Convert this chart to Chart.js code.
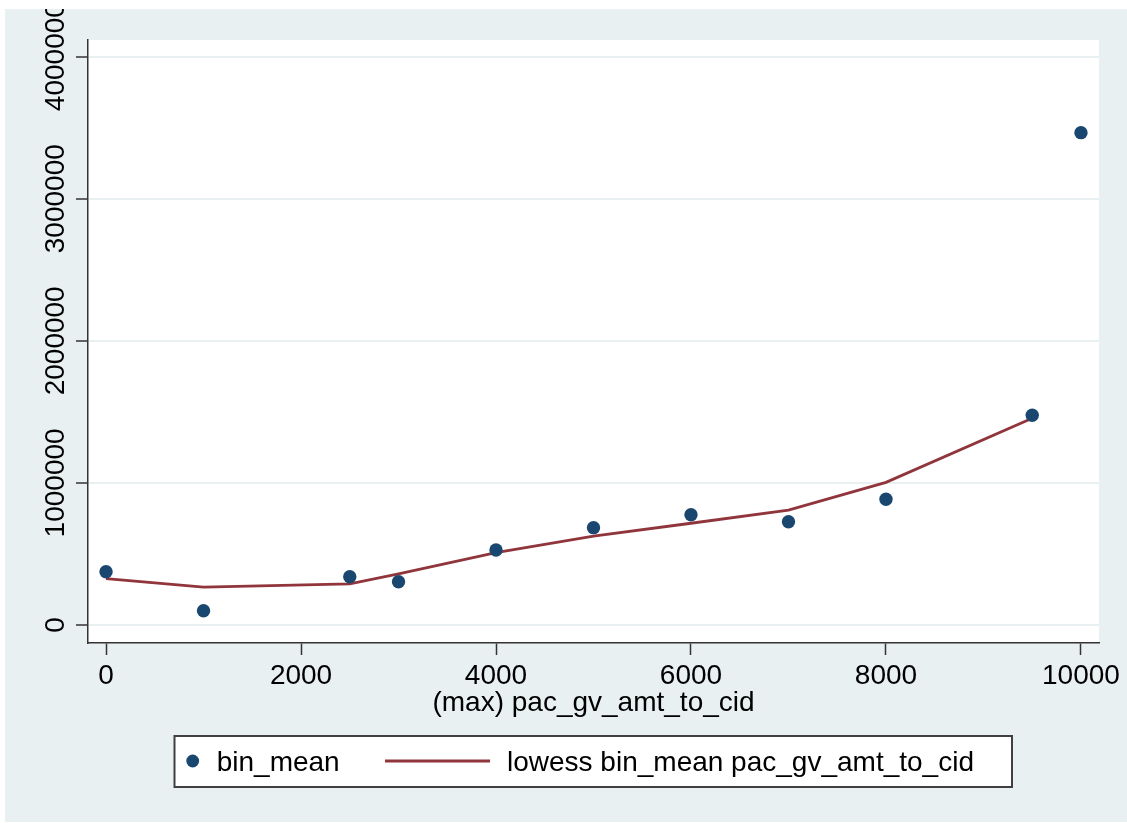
<!DOCTYPE html>
<html>
<head>
<meta charset="utf-8">
<script src="https://cdn.jsdelivr.net/npm/chart.js@4.4.1/dist/chart.umd.min.js"></script>
<style>
  html, body { margin: 0; padding: 0; background: #ffffff; }
  #wrap { position: absolute; left: 5px; top: 9px; width: 1122px; height: 813px; background: #E9F0F2; }
</style>
</head>
<body>
<div id="wrap"><canvas id="c"></canvas></div>
<script>
// ---- data ----
const binX      = [0, 1000, 2500, 3000, 4000, 5000, 6000, 7000, 8000, 9500, 10000];
const binMean   = [375000, 100000, 340000, 304000, 528000, 685000, 776000, 727000, 885000, 1476000, 3465000];
const lowessX   = [0, 1000, 2500, 3000, 4000, 5000, 6000, 7000, 8000, 9500];
const lowessY   = [326000, 267000, 289000, 359000, 509000, 626000, 716000, 809000, 1004000, 1455000];
const xTicks    = [0, 2000, 4000, 6000, 8000, 10000];
const xTickLabels = ["0", "2000", "4000", "6000", "8000", "10000"];
const yTicks    = [0, 1000000, 2000000, 3000000, 4000000];
const yTickLabels = ["0", "1000000", "2000000", "3000000", "4000000"];
const seriesLabels = ["bin_mean", "lowess bin_mean pac_gv_amt_to_cid"];
const xTitle = "(max) pac_gv_amt_to_cid";

const FONT = "'Liberation Sans', Arial, sans-serif";
const MARKER = "#1A476F";
const LINE = "#90353B";
const AXIS = "#333333";
const GRID = "#E9F0F2";

const yLabelPlugin = {
  id: 'yLabels',
  afterDraw(chart) {
    const ctx = chart.ctx;
    const ys = chart.scales.y;
    ctx.save();
    ctx.fillStyle = '#000';
    ctx.font = '28px ' + FONT;
    ctx.textAlign = 'center';
    ctx.textBaseline = 'alphabetic';
    yTicks.forEach((v, i) => {
      const py = ys.getPixelForValue(v);
      ctx.save();
      ctx.translate(59, py);
      ctx.rotate(-Math.PI / 2);
      ctx.fillText(yTickLabels[i], 0, 0);
      ctx.restore();
    });
    ctx.restore();
  }
};

const legendPlugin = {
  id: 'boxLegend',
  afterDraw(chart) {
    const ctx = chart.ctx;
    const ds = chart.data.datasets;
    ctx.save();
    ctx.fillStyle = '#ffffff';
    ctx.fillRect(169.5, 727, 837.5, 51);
    ctx.strokeStyle = '#404040';
    ctx.lineWidth = 2;
    ctx.strokeRect(169.5, 727, 837.5, 51);
    const cy = 752;
    ctx.fillStyle = ds[0].backgroundColor;
    ctx.beginPath();
    ctx.arc(187.7, cy, 6.4, 0, Math.PI * 2);
    ctx.fill();
    ctx.strokeStyle = ds[1].borderColor;
    ctx.lineWidth = 2.8;
    ctx.beginPath();
    ctx.moveTo(380, cy);
    ctx.lineTo(485, cy);
    ctx.stroke();
    ctx.fillStyle = '#000';
    ctx.font = '28px ' + FONT;
    ctx.textAlign = 'left';
    ctx.textBaseline = 'alphabetic';
    ctx.fillText(ds[0].label, 211.7, 761.5);
    ctx.fillText(ds[1].label, 502, 761.5);
    ctx.restore();
  }
};

new Chart(document.getElementById('c'), {
  type: 'scatter',
  data: {
    datasets: [
      {
        type: 'scatter',
        label: seriesLabels[0],
        data: binX.map((x, i) => ({ x: x, y: binMean[i] })),
        backgroundColor: MARKER,
        borderColor: MARKER,
        borderWidth: 0,
        pointRadius: 6.7,
        pointHoverRadius: 6.7,
        order: 1
      },
      {
        type: 'line',
        label: seriesLabels[1],
        data: lowessX.map((x, i) => ({ x: x, y: lowessY[i] })),
        borderColor: LINE,
        backgroundColor: LINE,
        borderWidth: 2.8,
        pointRadius: 0,
        tension: 0,
        fill: false,
        order: 2
      }
    ]
  },
  options: {
    responsive: true,
    maintainAspectRatio: false,
    animation: false,
    devicePixelRatio: 1,
    layout: { padding: { top: 31, right: 28, bottom: 0, left: 0 } },
    plugins: {
      legend: { display: false },
      tooltip: { enabled: false },
      title: { display: false }
    },
    scales: {
      x: {
        type: 'linear',
        position: 'bottom',
        min: -185,
        max: 10185,
        afterBuildTicks: s => { s.ticks = xTicks.map(v => ({ value: v })); },
        afterFit: s => { s.height = 179; },
        ticks: {
          color: '#000',
          font: { family: FONT, size: 28 },
          padding: 4,
          maxRotation: 0,
          minRotation: 0,
          autoSkip: false,
          callback: (v) => { const i = xTicks.indexOf(v); return i >= 0 ? xTickLabels[i] : ''; }
        },
        grid: {
          drawOnChartArea: false,
          drawTicks: true,
          tickLength: 12,
          tickColor: AXIS,
          tickWidth: 1.5
        },
        border: { display: true, color: AXIS, width: 1.5 },
        title: {
          display: true,
          text: xTitle,
          color: '#000',
          font: { family: FONT, size: 28 },
          padding: { top: 0, bottom: 102 }
        }
      },
      y: {
        type: 'linear',
        position: 'left',
        min: -126700,
        max: 4117000,
        afterBuildTicks: s => { s.ticks = yTicks.map(v => ({ value: v })); },
        afterFit: s => { s.width = 83; },
        ticks: { display: false },
        grid: {
          color: GRID,
          lineWidth: 2,
          drawTicks: true,
          tickLength: 12,
          tickColor: AXIS,
          tickWidth: 1.5
        },
        border: { display: true, color: AXIS, width: 1.5 }
      }
    }
  },
  plugins: [yLabelPlugin, legendPlugin, {
    id: 'plotBg',
    beforeDraw(chart) {
      const a = chart.chartArea;
      const ctx = chart.ctx;
      ctx.save();
      ctx.fillStyle = '#ffffff';
      ctx.fillRect(a.left, a.top, a.right - a.left, a.bottom - a.top);
      ctx.restore();
    }
  }]
});
</script>
</body>
</html>
